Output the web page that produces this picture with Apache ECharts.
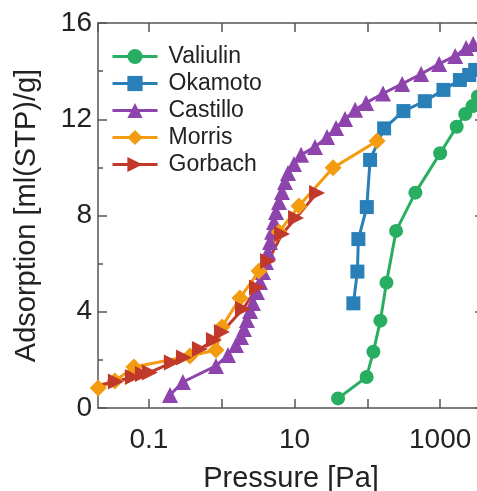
<!DOCTYPE html>
<html>
<head>
<meta charset="utf-8">
<script src="https://cdn.jsdelivr.net/npm/echarts@6/dist/echarts.min.js"></script>
<style>html,body{margin:0;padding:0;background:#fff;}#c{width:477px;height:491px;}</style>
</head>
<body>
<div id="c"></div>
<script>
const seriesNames = ['Valiulin', 'Okamoto', 'Castillo', 'Morris', 'Gorbach'];
const colors = ['#27ae60', '#2980b9', '#8e44ad', '#f39c12', '#c0392b'];
const symbols = ['circle', 'rect', 'triangle', 'diamond', 'triangle'];
const rotations = [0, 0, 0, 0, -90];

const valiulinX = [39.6, 97.7, 121, 151, 183, 248, 457, 1000, 1687, 2206, 2780, 3300];
const valiulinY = [0.40, 1.29, 2.34, 3.63, 5.21, 7.36, 8.95, 10.59, 11.69, 12.22, 12.55, 12.95];

const okamotoX = [64.3, 73, 75.3, 98.3, 109, 170, 313, 616, 1110, 1866, 2505, 3029];
const okamotoY = [4.35, 5.67, 7.02, 8.35, 10.31, 11.62, 12.34, 12.75, 13.22, 13.63, 13.84, 14.05];

const castilloX = [0.195, 0.293, 0.834, 1.22, 1.57, 1.84, 2.02, 2.22, 2.45, 2.69, 3.05, 3.36, 3.69, 4.06, 4.32, 4.60, 4.91, 5.23, 5.57, 6.12, 6.73, 7.40, 8.14, 9.84, 12.3, 19.1, 28.0, 37.2, 49.4, 67.9, 96.2, 164, 301, 548, 968, 1607, 2275, 2843];
const castilloY = [0.54, 1.08, 1.75, 2.20, 2.62, 2.95, 3.28, 3.66, 4.03, 4.36, 4.82, 5.24, 5.65, 6.07, 6.48, 6.90, 7.32, 7.73, 8.15, 8.56, 8.98, 9.39, 9.77, 10.14, 10.52, 10.85, 11.26, 11.64, 12.01, 12.39, 12.68, 13.07, 13.47, 13.88, 14.30, 14.63, 14.96, 15.13];

const morrisX = [0.0201, 0.0341, 0.0622, 0.366, 0.834, 1.01, 1.78, 3.25, 6.12, 11.5, 33.8, 136];
const morrisY = [0.83, 1.12, 1.70, 2.16, 2.41, 3.37, 4.57, 5.69, 7.31, 8.40, 9.98, 11.10];

const gorbachX = [0.0212, 0.0352, 0.0603, 0.0828, 0.103, 0.207, 0.303, 0.502, 0.782, 1.007, 1.96, 3.05, 4.33, 6.73, 10.5, 20.4];
const gorbachY = [0.96, 1.10, 1.29, 1.41, 1.48, 1.89, 2.10, 2.45, 2.83, 3.16, 4.11, 5.01, 6.11, 7.23, 7.90, 8.94];

const xLabels = ['0.1', '10', '1000'];

const allX = [valiulinX, okamotoX, castilloX, morrisX, gorbachX];
const allY = [valiulinY, okamotoY, castilloY, morrisY, gorbachY];

const FONT = '"Liberation Sans", Arial, sans-serif';
const axisColor = '#555';

function xFmt(v) {
  const e = Math.log10(v);
  const r = Math.round(e);
  if (Math.abs(e - r) > 1e-6) return '';
  const p = Math.pow(10, r);
  const s = p >= 1 ? String(Math.round(p)) : String(Number(p.toPrecision(3)));
  return xLabels.indexOf(s) >= 0 ? s : '';
}

const xCommon = {
  type: 'log', logBase: 10, min: 0.02, max: 4000,
  axisLine: { show: true, onZero: false, lineStyle: { color: axisColor, width: 1.5 } },
  axisTick: { show: true, inside: true, length: 9, lineStyle: { color: axisColor, width: 1.5 } },
  splitLine: { show: false }, minorTick: { show: false }
};
const yCommon = {
  type: 'value', min: 0, max: 16, interval: 4,
  axisLine: { show: true, onZero: false, lineStyle: { color: axisColor, width: 1.5 } },
  axisTick: { show: true, inside: true, length: 9, lineStyle: { color: axisColor, width: 1.5 } },
  minorTick: { show: true, splitNumber: 2, length: 5, lineStyle: { color: axisColor, width: 1.5 } },
  splitLine: { show: false }
};

const chart = echarts.init(document.getElementById('c'), null, { renderer: 'canvas' });
chart.setOption({
  animation: false,
  backgroundColor: '#fff',
  grid: { left: 98, top: 23, width: 386, height: 385, containLabel: false, outerBoundsMode: 'none' },
  legend: {
    orient: 'vertical', left: 106, top: 40,
    itemWidth: 45, itemHeight: 19, itemGap: 4,
    data: seriesNames,
    lineStyle: { width: 3 },
    textStyle: { fontFamily: FONT, fontSize: 23, color: '#222', padding: [0, 0, 0, 6] }
  },
  xAxis: [
    Object.assign({}, xCommon, {
      position: 'bottom',
      name: 'Pressure [Pa]', nameLocation: 'middle', nameGap: 56,
      nameTextStyle: { fontFamily: FONT, fontSize: 29, color: '#222' },
      axisLabel: { show: true, margin: 18, fontFamily: FONT, fontSize: 28, color: '#222', formatter: xFmt, showMinLabel: false, showMaxLabel: false }
    }),
    Object.assign({}, xCommon, { position: 'top', axisLabel: { show: false } })
  ],
  yAxis: [
    Object.assign({}, yCommon, {
      position: 'left',
      name: 'Adsorption [ml(STP)/g]', nameLocation: 'middle', nameGap: 57,
      nameTextStyle: { fontFamily: FONT, fontSize: 29, color: '#222' },
      axisLabel: { show: true, margin: 6, fontFamily: FONT, fontSize: 28, color: '#222' }
    }),
    Object.assign({}, yCommon, { position: 'right', axisLabel: { show: false } })
  ],
  series: seriesNames.map((n, i) => ({
    name: n, type: 'line',
    data: allX[i].map((x, j) => (i === 4 && j === 0) ? { value: [x, allY[i][j]], symbol: 'none' } : [x, allY[i][j]]),
    symbol: symbols[i], symbolRotate: rotations[i],
    symbolSize: i === 3 ? 17 : (i === 2 || i === 4 ? 16 : 14),
    showAllSymbol: true,
    lineStyle: { color: colors[i], width: 3 },
    itemStyle: { color: colors[i] },
    clip: true
  }))
});
</script>
</body>
</html>
